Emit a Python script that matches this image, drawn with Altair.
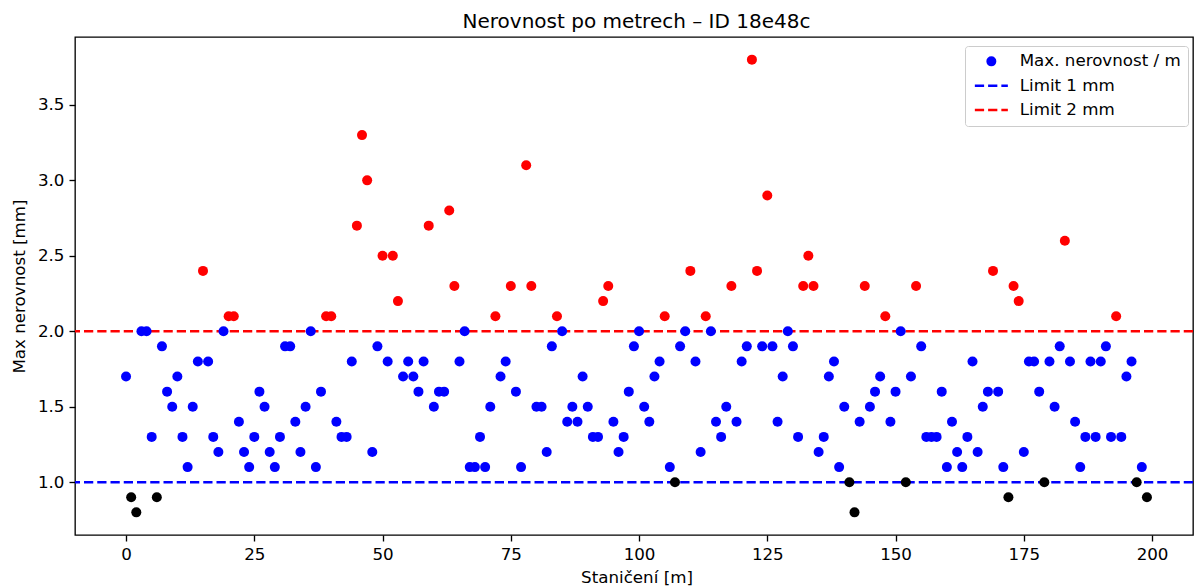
import altair as alt
import pandas as pd

stations = list(range(200))
max_unevenness = [
    1.7, 0.9, 0.8, 2.0, 2.0, 1.3, 0.9, 1.9, 1.6, 1.5,
    1.7, 1.3, 1.1, 1.5, 1.8, 2.4, 1.8, 1.3, 1.2, 2.0,
    2.1, 2.1, 1.4, 1.2, 1.1, 1.3, 1.6, 1.5, 1.2, 1.1,
    1.3, 1.9, 1.9, 1.4, 1.2, 1.5, 2.0, 1.1, 1.6, 2.1,
    2.1, 1.4, 1.3, 1.3, 1.8, 2.7, 3.3, 3.0, 1.2, 1.9,
    2.5, 1.8, 2.5, 2.2, 1.7, 1.8, 1.7, 1.6, 1.8, 2.7,
    1.5, 1.6, 1.6, 2.8, 2.3, 1.8, 2.0, 1.1, 1.1, 1.3,
    1.1, 1.5, 2.1, 1.7, 1.8, 2.3, 1.6, 1.1, 3.1, 2.3,
    1.5, 1.5, 1.2, 1.9, 2.1, 2.0, 1.4, 1.5, 1.4, 1.7,
    1.5, 1.3, 1.3, 2.2, 2.3, 1.4, 1.2, 1.3, 1.6, 1.9,
    2.0, 1.5, 1.4, 1.7, 1.8, 2.1, 1.1, 1.0, 1.9, 2.0,
    2.4, 1.8, 1.2, 2.1, 2.0, 1.4, 1.3, 1.5, 2.3, 1.4,
    1.8, 1.9, 3.8, 2.4, 1.9, 2.9, 1.9, 1.4, 1.7, 2.0,
    1.9, 1.3, 2.3, 2.5, 2.3, 1.2, 1.3, 1.7, 1.8, 1.1,
    1.5, 1.0, 0.8, 1.4, 2.3, 1.5, 1.6, 1.7, 2.1, 1.4,
    1.6, 2.0, 1.0, 1.7, 2.3, 1.9, 1.3, 1.3, 1.3, 1.6,
    1.1, 1.4, 1.2, 1.1, 1.3, 1.8, 1.2, 1.5, 1.6, 2.4,
    1.6, 1.1, 0.9, 2.3, 2.2, 1.2, 1.8, 1.8, 1.6, 1.0,
    1.8, 1.5, 1.9, 2.6, 1.8, 1.4, 1.1, 1.3, 1.8, 1.3,
    1.8, 1.9, 1.3, 2.1, 1.3, 1.7, 1.8, 1.0, 1.1, 0.9,
]
limit_names = ["Limit 1 mm", "Limit 2 mm"]
limit_values = [1.0, 2.0]
legend_labels = ["Max. nerovnost / m", "Limit 1 mm", "Limit 2 mm"]
legend_strokes = ["blue", "blue", "red"]
legend_fills = ["blue", "transparent", "transparent"]
x_ticks = [0, 25, 50, 75, 100, 125, 150, 175, 200]
y_ticks = [1.0, 1.5, 2.0, 2.5, 3.0, 3.5]

# legend glyphs (unit coordinates, scaled by the symbol size)
DOT = "M-0.75,0A0.75,0.75,0,1,0,0.75,0A0.75,0.75,0,1,0,-0.75,0Z"
DASHES = "M-3.3,0L-1.45,0M-0.65,0L1.2,0M2.0,0L3.3,0"


def colour_of(v):
    if v > 2.0 + 1e-9:
        return "red"
    if v > 1.0 + 1e-9:
        return "blue"
    return "black"


points_df = pd.DataFrame({
    "station": stations,
    "value": max_unevenness,
    "colour": [colour_of(v) for v in max_unevenness],
})
limits_df = pd.DataFrame({"series": limit_names, "limit": limit_values})
legend_df = pd.DataFrame({"series": legend_labels})

FONT = "DejaVu Sans"
FS = 16.7
PLOT_W = 1118
PLOT_H = 498

x_scale = alt.Scale(domain=[-9.95, 207.98], nice=False, zero=False)
y_scale = alt.Scale(domain=[0.65, 3.95], nice=False, zero=False)

x_axis = alt.Axis(values=x_ticks, format="d", title="Staničení [m]", titlePadding=7, titleX=561.5)
y_axis = alt.Axis(values=y_ticks, format=".1f", title="Max nerovnost [mm]", titlePadding=9)

stroke_scale = alt.Scale(domain=legend_labels, range=legend_strokes)
fill_scale = alt.Scale(domain=legend_labels, range=legend_fills)
shape_scale = alt.Scale(domain=legend_labels, range=[DOT, DASHES, DASHES])

legend = alt.Legend(
    title=None,
    orient="none",
    legendX=890,
    legendY=9,
    padding=7,
    fillColor="white",
    strokeColor="#cccccc",
    cornerRadius=3,
    labelFont=FONT,
    labelFontSize=FS,
    labelColor="black",
    labelLimit=400,
    labelOffset=20,
    symbolOffset=11,
    symbolSize=100,
    symbolStrokeWidth=2.5,
    symbolOpacity=1,
    rowPadding=6.3,
)

rules = alt.Chart(limits_df).mark_rule(strokeDash=[9.25, 4], strokeWidth=2.5).encode(
    y=alt.Y("limit:Q", scale=y_scale, axis=y_axis),
    stroke=alt.Stroke("series:N", scale=stroke_scale, legend=legend),
)

points = alt.Chart(points_df).mark_circle(size=100, opacity=1).encode(
    x=alt.X("station:Q", scale=x_scale, axis=x_axis),
    y=alt.Y("value:Q", scale=y_scale, axis=y_axis),
    color=alt.Color("colour:N", scale=None),
)

legend_layer = alt.Chart(legend_df).transform_filter("false").mark_point(
    filled=False, size=100, strokeWidth=2.5, opacity=1
).encode(
    stroke=alt.Stroke("series:N", scale=stroke_scale, legend=legend),
    fill=alt.Fill("series:N", scale=fill_scale, legend=legend),
    shape=alt.Shape("series:N", scale=shape_scale, legend=legend),
)

chart = alt.layer(rules, points, legend_layer).properties(
    width=PLOT_W,
    height=PLOT_H,
    autosize=alt.AutoSizeParams(type="none"),
    padding={"left": 67, "top": 29, "right": 1, "bottom": 52},
    title=alt.Title(
        "Nerovnost po metrech – ID 18e48c",
        font=FONT, fontSize=20, fontWeight="normal", color="black",
        anchor="middle", offset=5, frame="group", dx=2.5,
    ),
).configure_view(
    stroke="black", strokeWidth=1.33
).configure_axis(
    grid=False,
    domain=False,
    tickColor="black",
    tickWidth=1.33,
    tickSize=6,
    labelPadding=5,
    labelFont=FONT,
    labelFontSize=FS,
    labelColor="black",
    titleFont=FONT,
    titleFontSize=FS,
    titleFontWeight="normal",
    titleColor="black",
)

chart.save("out.html", embed_options={"renderer": "svg", "actions": False})
